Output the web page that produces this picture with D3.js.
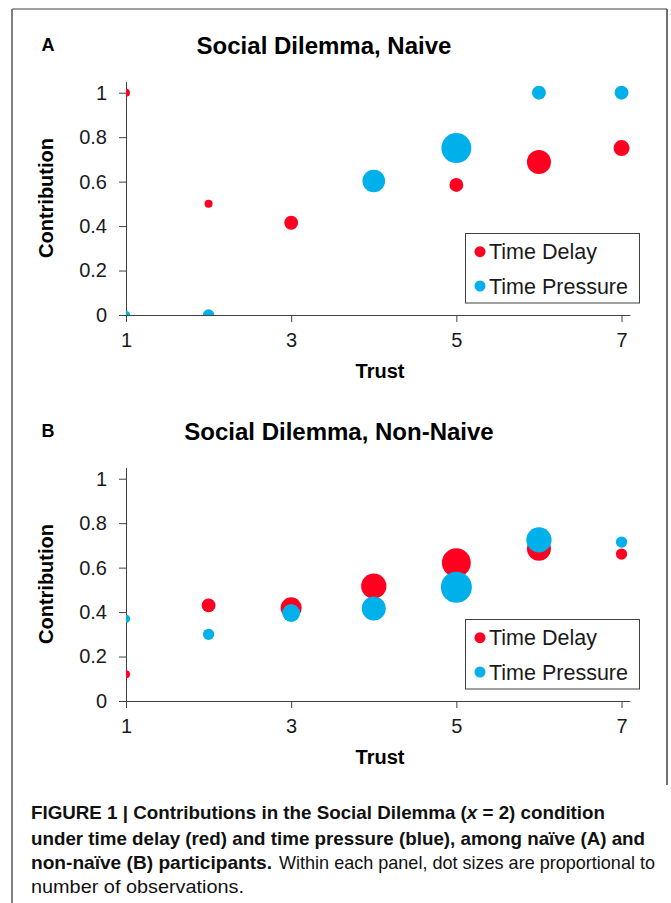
<!DOCTYPE html>
<html>
<head>
<meta charset="utf-8">
<script src="https://cdn.jsdelivr.net/npm/d3@7"></script>
<style>
  body { margin: 0; background: #fff; }
  svg { display: block; font-family: "Liberation Sans", Arial, sans-serif; }
</style>
</head>
<body>
<script>
// trust levels on the x axis
const xTicks = [1, 3, 5, 7];
const yTicks = [0, 0.2, 0.4, 0.6, 0.8, 1];

// panel A, naive
const naiveDelayTrust = [1, 2, 3, 5, 6, 7];
const naiveDelayContrib = [1, 0.5, 0.415, 0.585, 0.688, 0.751];
const naiveDelayObs = [1, 1, 3, 3, 9, 4];
const naivePressTrust = [1, 2, 4, 5, 6, 7];
const naivePressContrib = [0, 0, 0.603, 0.751, 1, 1];
const naivePressObs = [1, 2, 8, 14, 3, 3];

// panel B, non-naive
const nonNaiveDelayTrust = [1, 2, 3, 4, 5, 6, 7];
const nonNaiveDelayContrib = [0.12, 0.43, 0.419, 0.517, 0.622, 0.685, 0.661];
const nonNaiveDelayObs = [1, 3, 7, 10, 13, 9, 2];
const nonNaivePressTrust = [1, 2, 3, 4, 5, 6, 7];
const nonNaivePressContrib = [0.37, 0.30, 0.396, 0.416, 0.512, 0.725, 0.715];
const nonNaivePressObs = [1, 2, 5, 9, 15, 10, 2];

const seriesNames = ["Time Delay", "Time Pressure"];
const seriesColors = ["#ff0020", "#00b0ea"];

const W = 671, H = 903;
const svg = d3.select("body").append("svg").attr("width", W).attr("height", H);

// frame
svg.append("line").attr("x1", 12).attr("x2", 12).attr("y1", 9).attr("y2", H)
  .attr("stroke", "#808080").attr("stroke-width", 2);
svg.append("line").attr("x1", 12).attr("x2", 667).attr("y1", 9).attr("y2", 9)
  .attr("stroke", "#808080").attr("stroke-width", 1.5);
svg.append("line").attr("x1", 667).attr("x2", 667).attr("y1", 9).attr("y2", 785)
  .attr("stroke", "#404040").attr("stroke-width", 1.5);

const pack = (t, c, n) => t.map((d, i) => ({ trust: d, contrib: c[i], obs: n[i] }));

const panels = [
  { letter: "A", title: "Social Dilemma, Naive", top: 0,
    series: [pack(naiveDelayTrust, naiveDelayContrib, naiveDelayObs),
             pack(naivePressTrust, naivePressContrib, naivePressObs)] },
  { letter: "B", title: "Social Dilemma, Non-Naive", top: 386,
    series: [pack(nonNaiveDelayTrust, nonNaiveDelayContrib, nonNaiveDelayObs),
             pack(nonNaivePressTrust, nonNaivePressContrib, nonNaivePressObs)] }
];

const x = d3.scaleLinear().domain([1, 7.1]).range([126, 629.8]);
const r = d3.scaleSqrt().domain([0, 15]).range([0, 15.5]);

panels.forEach((p, pi) => {
  const g = svg.append("g").attr("transform", `translate(0,${p.top})`);
  const y = d3.scaleLinear().domain([0, 1.05]).range([315, 81.6]);

  g.append("text").attr("x", 48).attr("y", 51).attr("text-anchor", "middle")
    .attr("font-weight", "bold").attr("font-size", 18).text(p.letter);
  g.append("text").attr("x", pi === 0 ? 324 : 339).attr("y", 54).attr("text-anchor", "middle")
    .attr("font-weight", "bold").attr("font-size", 24).text(p.title);

  const clipId = "clip" + pi;
  g.append("clipPath").attr("id", clipId).append("rect")
    .attr("x", x(1)).attr("y", y(1.05) - 20).attr("width", x(7.1) - x(1) + 20).attr("height", y(0) - y(1.05) + 20);

  const xAxis = g.append("g").attr("transform", `translate(0,${y(0)})`)
    .call(d3.axisBottom(x).tickValues(xTicks).tickSize(7).tickSizeOuter(0).tickPadding(11)
      .tickFormat(d3.format("d")));
  const yAxis = g.append("g").attr("transform", `translate(${x(1)},0)`)
    .call(d3.axisLeft(y).tickValues(yTicks).tickSize(7).tickSizeOuter(0).tickPadding(12)
      .tickFormat(d => (d === 0 || d === 1) ? d : d.toFixed(1)));
  [xAxis, yAxis].forEach(a => {
    a.selectAll("path,line").attr("stroke", "#404040");
    a.selectAll("text").attr("font-size", 20).attr("fill", "#1a1a1a")
      .attr("font-family", "'Liberation Sans', Arial, sans-serif");
  });

  g.append("text").attr("x", 380).attr("y", 378).attr("text-anchor", "middle")
    .attr("font-weight", "bold").attr("font-size", 20).text("Trust");
  g.append("text").attr("transform", `translate(53,198) rotate(-90)`).attr("text-anchor", "middle")
    .attr("font-weight", "bold").attr("font-size", 20).text("Contribution");

  const dots = g.append("g").attr("clip-path", `url(#${clipId})`);
  p.series.forEach((s, si) => {
    dots.selectAll(null).data(s).join("circle")
      .attr("cx", d => x(d.trust)).attr("cy", d => y(d.contrib))
      .attr("r", d => r(d.obs)).attr("fill", seriesColors[si]);
  });

  // legend
  const lg = g.append("g");
  lg.append("rect").attr("x", 465.5).attr("y", 233.5).attr("width", 174).attr("height", 69.5)
    .attr("fill", "#fff").attr("stroke", "#404040");
  seriesNames.forEach((name, i) => {
    const cy = 251.7 + i * 34.3;
    lg.append("circle").attr("cx", 480).attr("cy", cy).attr("r", 5.5).attr("fill", seriesColors[i]);
    lg.append("text").attr("x", 489).attr("y", cy + 7.5).attr("font-size", 21.5).attr("fill", "#1a1a1a").text(name);
  });
});

// caption
const cap = svg.append("g").attr("font-family", "'Liberation Sans Narrow', 'Arial Narrow', 'Liberation Sans', sans-serif")
  .attr("font-size", 18.5).attr("fill", "#111");
const l1 = cap.append("text").attr("x", 31).attr("y", 819).attr("font-weight", "bold")
  .attr("textLength", 574).attr("lengthAdjust", "spacingAndGlyphs");
l1.append("tspan").text("FIGURE 1 | Contributions in the Social Dilemma (");
l1.append("tspan").attr("font-style", "italic").text("x");
l1.append("tspan").text(" = 2) condition");
cap.append("text").attr("x", 31).attr("y", 845).attr("font-weight", "bold")
  .attr("textLength", 614).attr("lengthAdjust", "spacingAndGlyphs")
  .text("under time delay (red) and time pressure (blue), among naïve (A) and");
cap.append("text").attr("x", 31).attr("y", 869).attr("font-weight", "bold")
  .attr("textLength", 241).attr("lengthAdjust", "spacingAndGlyphs")
  .text("non-naïve (B) participants.");
cap.append("text").attr("x", 279).attr("y", 869)
  .attr("textLength", 376).attr("lengthAdjust", "spacingAndGlyphs")
  .text("Within each panel, dot sizes are proportional to");
cap.append("text").attr("x", 31).attr("y", 893)
  .attr("textLength", 213).attr("lengthAdjust", "spacingAndGlyphs")
  .text("number of observations.");
</script>
</body>
</html>
